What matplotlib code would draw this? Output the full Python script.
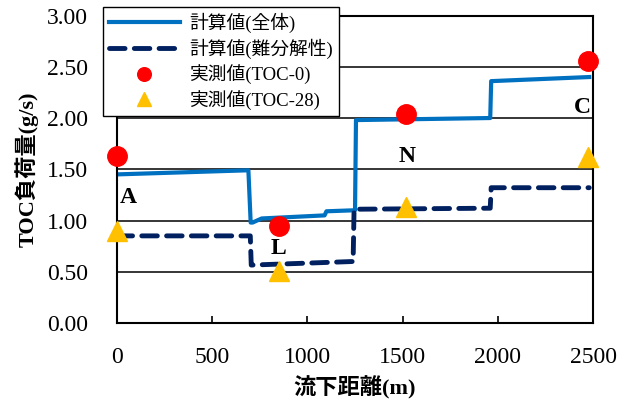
import numpy as np
import matplotlib
matplotlib.use("Agg")
import matplotlib.pyplot as plt

plt.rcParams['font.family'] = ['Liberation Serif', 'Noto Sans CJK JP']

# calculated load, whole TOC
total_x = [0, 690, 702, 712, 760, 1090, 1100, 1250, 1255, 1960, 1965, 2480]
total_y = [1.45, 1.49, 0.98, 0.98, 1.02, 1.05, 1.09, 1.10, 1.98, 2.00, 2.36, 2.40]

# calculated load, refractory part
refr_x = [0, 700, 705, 1240, 1245, 1960, 1965, 2480]
refr_y = [0.85, 0.85, 0.565, 0.60, 1.11, 1.12, 1.32, 1.32]

# measured values
meas_x = [0, 850, 1520, 2475]
toc0_y = [1.63, 0.945, 2.04, 2.56]
toc28_y = [0.90, 0.51, 1.13, 1.62]

site_names = ['A', 'L', 'N', 'C']
site_x = [58, 850, 1523, 2442]
site_y = [1.22, 0.73, 1.62, 2.10]

fig = plt.figure(figsize=(6.21, 4.09), dpi=100)
ax = fig.add_axes([0.1884, 0.2103, 0.955 - 0.1884, 0.962 - 0.2103])

ax.plot(total_x, total_y, color='#0070C0', lw=3.0, label='計算値(全体)')
ax.plot(refr_x, refr_y, color='#002060', lw=3.5, ls=(0, (3.2, 1.9)),
        dash_capstyle='round', label='計算値(難分解性)')
ax.plot(meas_x, toc0_y, 'o', color='#FF0000', ms=14, ls='none',
        clip_on=False, zorder=5, label='実測値(TOC-0)')
ax.plot(meas_x, toc28_y, '^', color='#FFC000', ms=15, ls='none',
        clip_on=False, zorder=5, label='実測値(TOC-28)')

for name, x, y in zip(site_names, site_x, site_y):
    ax.text(x, y, name, fontsize=17, fontweight='bold', ha='center', va='center')

ax.set_xlim(0, 2500)
ax.set_ylim(0, 3.0)
ax.set_xticks(np.arange(0, 2501, 500))
ax.set_yticks(np.arange(0, 3.01, 0.5))
ax.set_yticklabels([f'{v:.2f}' for v in np.arange(0, 3.01, 0.5)])
ax.tick_params(axis='x', direction='in', length=5, width=1.2, pad=17, labelsize=17)
ax.tick_params(axis='y', length=0, pad=21, labelsize=17)
ax.grid(axis='y', color='black', lw=1.1)
for s in ax.spines.values():
    s.set_color('black')
    s.set_linewidth(1.5)

ax.set_xlabel('流下距離(m)', fontsize=16, fontweight='bold', labelpad=6)
ax.set_ylabel('TOC負荷量(g/s)', fontsize=16, fontweight='bold', labelpad=6)

leg = fig.legend(loc='upper left', bbox_to_anchor=(103 / 621, 1 - 7 / 409),
                 fontsize=13.5, frameon=True, fancybox=False, framealpha=1,
                 edgecolor='black', handlelength=3.8, borderpad=0.3,
                 labelspacing=0.3, handletextpad=0.5, borderaxespad=0,
                 markerscale=0.7)
leg.get_frame().set_linewidth(1.0)

fig.savefig('out.png', dpi=100)
